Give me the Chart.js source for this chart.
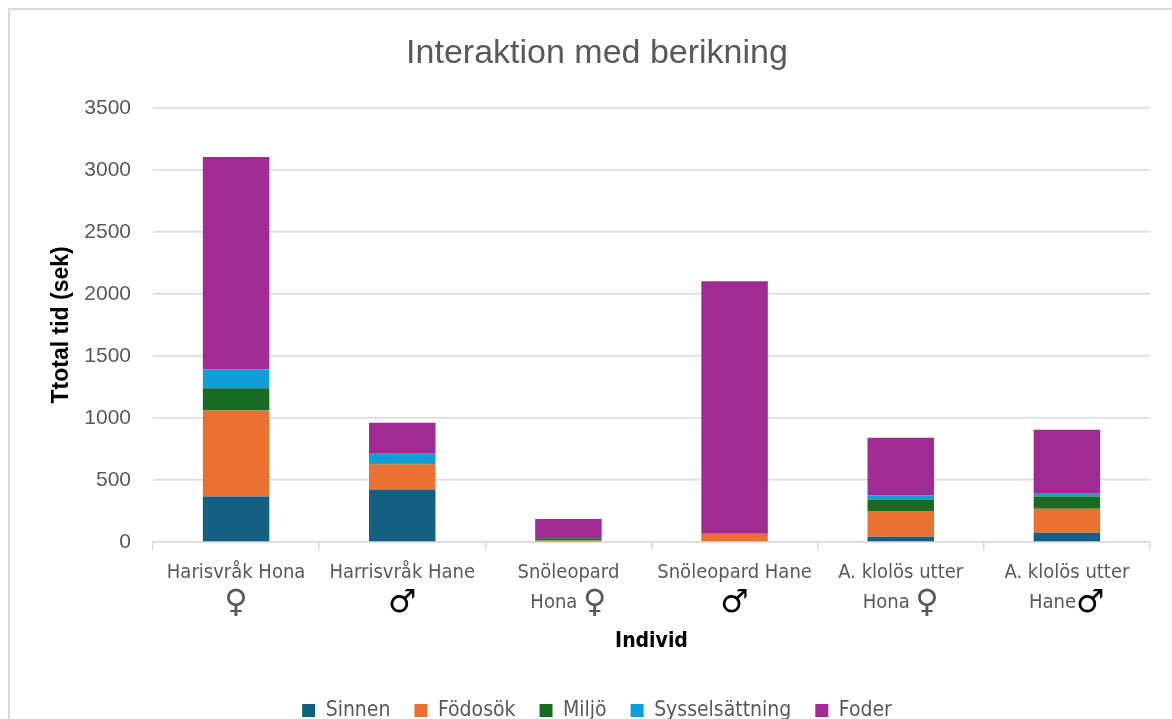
<!DOCTYPE html>
<html>
<head>
<meta charset="utf-8">
<script src="https://cdn.jsdelivr.net/npm/chart.js@4"></script>
<style>
	html, body { margin: 0; padding: 0; background: #fff; overflow: hidden; }
	#box { position: absolute; left: 8px; top: 8px; width: 1180px; height: 740px; border: 2px solid #d9d9d9; box-sizing: border-box; }
	#wrap { position: absolute; left: 0; top: 0; width: 1162px; height: 730px; }
</style>
</head>
<body>
<div id="box"><div id="wrap"><canvas id="chart"></canvas></div></div>
<script>
document.addEventListener('DOMContentLoaded', initializeChart);

// categories: first line, second line text, symbol
var labelTop = ['Harisvråk Hona', 'Harrisvråk Hane', 'Snöleopard', 'Snöleopard Hane', 'A. klolös utter', 'A. klolös utter'];
var labelBottom = ['', '', 'Hona ', '', 'Hona ', 'Hane'];
var labelSymbol = ['♀', '♂', '♀', '♂', '♀', '♂'];

var sinnen = [366, 423, 8, 0, 43, 75];
var fodosok = [693, 202, 4, 67, 207, 194];
var miljo = [180, 8, 18, 0, 92, 97];
var syssel = [154, 78, 3, 0, 35, 22];
var foder = [1710, 251, 153, 2034, 463, 517];

var yTicks = [0, 500, 1000, 1500, 2000, 2500, 3000, 3500];

var narrow = '"Liberation Sans Narrow", "DejaVu Sans Condensed", "Roboto Condensed", sans-serif';
var grey = '#595959';

var xLabelPlugin = {
	id: 'xLabels',
	afterDraw(chart) {
		var ctx = chart.ctx;
		var sx = chart.scales.x;
		ctx.save();
		ctx.fillStyle = grey;
		ctx.textBaseline = 'middle';
		labelTop.forEach(function (t, i) {
			var x = sx.getPixelForValue(i);
			ctx.font = '20px ' + narrow;
			ctx.textAlign = 'center';
			ctx.fillText(t, x, sx.top + 31);
			// second line: optional text + bigger symbol
			var txt = labelBottom[i];
			var fTxt = '20px ' + narrow;
			var fSym = '32px "DejaVu Sans", sans-serif';
			ctx.font = fTxt;
			var w1 = ctx.measureText(txt).width;
			ctx.font = fSym;
			var w2 = ctx.measureText(labelSymbol[i]).width;
			var start = x - (w1 + w2) / 2;
			ctx.textAlign = 'left';
			ctx.font = fTxt;
			ctx.fillText(txt, start, sx.top + 61);
			ctx.fillStyle = labelSymbol[i] === '♂' ? '#000' : grey;
			ctx.font = fSym;
			ctx.fillText(labelSymbol[i], start + w1, sx.top + 62);
			ctx.fillStyle = grey;
		});
		ctx.restore();
	}
};

function initializeChart() {
	var ctx = document.getElementById('chart').getContext('2d');
	var ds = function (label, data, color) {
		return { label: label, data: data, backgroundColor: color, borderWidth: 0, barPercentage: 0.4, categoryPercentage: 1 };
	};
	new Chart(ctx, {
		type: 'bar',
		data: {
			labels: labelTop,
			datasets: [
				ds('Sinnen', sinnen, '#156082'),
				ds('Födosök', fodosok, '#E97132'),
				ds('Miljö', miljo, '#196B24'),
				ds('Sysselsättning', syssel, '#0F9ED5'),
				ds('Foder', foder, '#A02B93')
			]
		},
		options: {
			responsive: true,
			maintainAspectRatio: false,
			animation: false,
			layout: { padding: { left: 34, right: 22, top: 0, bottom: 9 } },
			plugins: {
				title: {
					display: true,
					text: 'Interaktion med berikning',
					color: grey,
					font: { family: '"Liberation Sans", Arial, sans-serif', size: 34, weight: 'normal' },
					padding: { top: 23, bottom: 34 }
				},
				legend: {
					position: 'bottom',
					labels: {
						boxWidth: 13, boxHeight: 13, padding: 24, color: grey,
						font: { family: narrow, size: 21 }
					}
				},
				tooltip: { enabled: false }
			},
			scales: {
				x: {
					stacked: true,
					afterFit: function (s) { s.height = 134; },
					border: { color: '#d9d9d9', width: 1.5 },
					grid: { offset: true, drawOnChartArea: false, tickLength: 8, color: '#d9d9d9', lineWidth: 1.5 },
					ticks: { display: false },
					title: {
						display: true, text: 'Individ', color: '#000',
						font: { family: narrow, size: 21, weight: 'bold' },
						padding: { top: 0, bottom: 22 }
					}
				},
				y: {
					stacked: true,
					min: 0, max: 3500,
					afterFit: function (s) { s.width = 109; },
					afterBuildTicks: function (s) { s.ticks = yTicks.map(function (v) { return { value: v }; }); },
					border: { display: false },
					grid: { color: '#d9d9d9', lineWidth: 1.5, drawTicks: false },
					ticks: {
						padding: 22, color: grey,
						font: { family: '"Liberation Sans", Arial, sans-serif', size: 21 },
						callback: function (v) { return String(v); }
					},
					title: {
						display: true, text: 'Ttotal tid (sek)', color: '#000',
						font: { family: '"Liberation Sans", Arial, sans-serif', size: 23, weight: 'bold' },
						padding: { top: 4, bottom: 0 }
					}
				}
			}
		},
		plugins: [xLabelPlugin]
	});
}
</script>
</body>
</html>
